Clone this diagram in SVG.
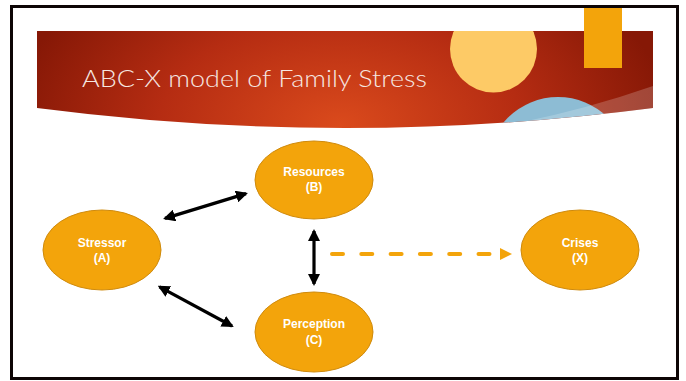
<svg xmlns="http://www.w3.org/2000/svg" width="686" height="381" viewBox="0 0 686 381">
<style>
.node ellipse{fill:#f3a40b;stroke:#cf8a0c;stroke-width:1}
.node text{font-family:"Liberation Sans",Arial,sans-serif;font-weight:bold;font-size:12px;fill:#ffffff;text-anchor:middle}
.conn{stroke:#000;stroke-width:3.2;fill:none}
</style>
<defs>
<radialGradient id="bg" cx="340" cy="125" r="330" gradientUnits="userSpaceOnUse" gradientTransform="translate(340 125) scale(1 0.6) translate(-340 -125)">
<stop offset="0" stop-color="#da4a1c"/>
<stop offset="0.55" stop-color="#b52c12"/>
<stop offset="1" stop-color="#861806"/>
</radialGradient>
<clipPath id="bandClip">
<path d="M37,31 H653 V108 Q345,148 37,108 Z"/>
</clipPath>
<marker id="ah" viewBox="0 0 12 12" markerWidth="12" markerHeight="12" refX="10" refY="6" orient="auto-start-reverse" markerUnits="userSpaceOnUse">
<path d="M0,0 L12,6 L0,12 Z" fill="#000"/>
</marker>
</defs>
<rect x="0" y="0" width="686" height="381" fill="#fff"/>
<g id="header">
<path d="M37,31 H653 V108 Q345,148 37,108 Z" fill="url(#bg)"/>
<g clip-path="url(#bandClip)">
<circle cx="493.5" cy="49" r="43.5" fill="#fdca66"/>
<circle cx="558" cy="168" r="71" fill="#8dbcd4"/>
<path d="M480,130 Q570,115 653,86 V140 H480 Z" fill="#ffffff" fill-opacity="0.2"/>
</g>
<rect x="584" y="7" width="38" height="61" fill="#f3a40b"/>
<text x="82" y="87" font-family="Lato,'Open Sans','Liberation Sans',sans-serif" font-weight="300" font-size="24" fill="#f6e7e1" textLength="345" lengthAdjust="spacingAndGlyphs">ABC-X model of Family Stress</text>
</g>
<g id="connectors">
<line class="conn" x1="165" y1="218.4" x2="246" y2="193.6" marker-start="url(#ah)" marker-end="url(#ah)"/>
<line class="conn" x1="159.5" y1="286.8" x2="232" y2="326" marker-start="url(#ah)" marker-end="url(#ah)"/>
<line class="conn" x1="314" y1="231" x2="314" y2="284" marker-start="url(#ah)" marker-end="url(#ah)"/>
<line x1="332" y1="254" x2="491" y2="254" stroke="#f3a40b" stroke-width="4" stroke-linecap="round" stroke-dasharray="11 18.3"/>
<polygon points="500,248 512,254 500,260" fill="#f3a40b"/>
</g>
<g id="node-resources" class="node">
<ellipse cx="314" cy="180" rx="59" ry="39"/>
<text x="314" y="176">Resources</text>
<text x="314" y="191">(B)</text>
</g>
<g id="node-stressor" class="node">
<ellipse cx="102" cy="250" rx="59" ry="40"/>
<text x="102" y="247">Stressor</text>
<text x="102" y="262">(A)</text>
</g>
<g id="node-perception" class="node">
<ellipse cx="314" cy="332" rx="59" ry="40"/>
<text x="314" y="328">Perception</text>
<text x="314" y="344">(C)</text>
</g>
<g id="node-crises" class="node">
<ellipse cx="580" cy="250" rx="59" ry="40"/>
<text x="580" y="247">Crises</text>
<text x="580" y="262">(X)</text>
</g>
<rect x="11.5" y="6.5" width="666" height="372" fill="none" stroke="#0d0505" stroke-width="3"/>
</svg>
